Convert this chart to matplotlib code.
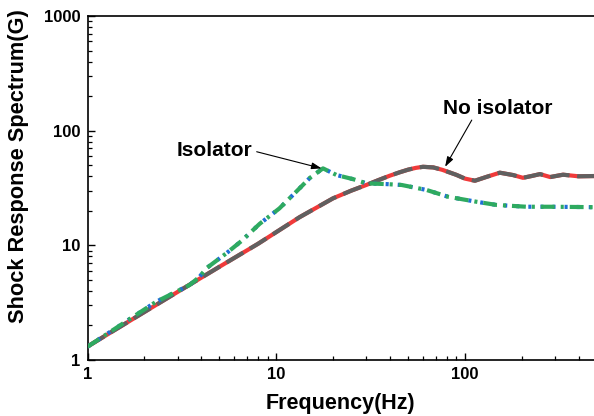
import matplotlib
matplotlib.use("Agg")
import matplotlib.pyplot as plt
from matplotlib.ticker import LogLocator, FixedLocator, NullFormatter, FixedFormatter

# ---- data ----
freq_no_iso = [1, 2, 3, 5, 8, 13.3, 20, 25, 30, 35, 40, 45, 50, 55, 60, 68, 76, 90,
               100, 113, 130, 153, 180, 203, 225, 250, 283, 331, 400, 483]
srs_no_iso = [1.31, 2.62, 3.92, 6.5, 10.3, 17.6, 25.7, 30.0, 33.6, 37.2, 40.5, 43.3,
              45.7, 47.4, 48.4, 47.8, 45.5, 41.2, 38.2, 36.6, 39.5, 43.0, 41.0, 38.8,
              40.2, 41.8, 39.4, 41.3, 40.0, 40.2]

freq_iso = [1, 2.31, 3.47, 3.93, 4.26, 5.44, 6.54, 8.17, 10.4, 12.8, 15.1, 17.7,
            20.9, 25.5, 30.1, 38.4, 46.2, 62.6, 81.6, 115, 147, 212, 282, 391, 483]
srs_iso = [1.306, 3.22, 4.5, 5.33, 6.30, 8.52, 10.9, 15.4, 21.0, 29.5, 38.8, 46.9,
           41.0, 37.8, 34.7, 34.2, 33.6, 30.4, 26.5, 24.0, 22.5, 21.7, 21.7, 21.6, 21.5]

x_ticks = [1, 10, 100]
x_ticklabels = ["1", "10", "100"]
y_ticks = [1, 10, 100, 1000]
y_ticklabels = ["1", "10", "100", "1000"]

# ---- figure ----
plt.rcParams['font.family'] = ['Liberation Sans', 'DejaVu Sans']
plt.rcParams['lines.scale_dashes'] = False

fig = plt.figure(figsize=(5.94, 4.16), dpi=100)
ax = fig.add_axes([87.5 / 594, 56 / 416, 1 - 87.5 / 594, 344 / 416])

ax.set_xscale('log')
ax.set_yscale('log')
ax.set_xlim(1, 483)
ax.set_ylim(1, 1000)

lw = 3.0
# No isolator: red base with gray dashes
ax.plot(freq_no_iso, srs_no_iso, color='#f03a3a', lw=lw, solid_capstyle='butt',
        solid_joinstyle='round', zorder=3)
ax.plot(freq_no_iso, srs_no_iso, color='#606060', lw=lw, dashes=(14, 5.5),
        dash_capstyle='butt', dash_joinstyle='round', zorder=4)

# Isolator: blue dotted under green dash-dot
ax.plot(freq_iso, srs_iso, color='#1f6fd6', lw=lw, dashes=(2.2, 6.5),
        dash_capstyle='butt', zorder=5)
ax.plot(freq_iso, srs_iso, color='#2eaa60', lw=lw, dashes=(10, 4.3, 2.2, 4.3),
        dash_capstyle='butt', zorder=6)

# ticks
ax.xaxis.set_major_locator(FixedLocator(x_ticks))
ax.xaxis.set_major_formatter(FixedFormatter(x_ticklabels))
ax.xaxis.set_minor_locator(LogLocator(base=10, subs=range(2, 10)))
ax.xaxis.set_minor_formatter(NullFormatter())
ax.yaxis.set_major_locator(FixedLocator(y_ticks))
ax.yaxis.set_major_formatter(FixedFormatter(y_ticklabels))
ax.yaxis.set_minor_locator(LogLocator(base=10, subs=range(2, 10)))
ax.yaxis.set_minor_formatter(NullFormatter())

ax.tick_params(which='major', direction='in', length=5, width=1.0,
               labelsize=12, pad=5, top=False, right=False)
ax.tick_params(which='minor', direction='in', length=3, width=0.9, top=False, right=False)
for lab in ax.get_xticklabels() + ax.get_yticklabels():
    lab.set_fontweight('bold')

for s in ['left', 'bottom', 'top']:
    ax.spines[s].set_linewidth(1.2)
ax.spines['right'].set_visible(False)

ax.set_xlabel('Frequency(Hz)', fontsize=15.5, fontweight='bold')
ax.xaxis.set_label_coords(0.5, -33 / 344)
ax.set_ylabel('Shock Response Spectrum(G)', fontsize=15.7, fontweight='bold')
ax.yaxis.set_label_coords(-58 / 506.5, (360 - 166) / 344)

# annotations
ax.annotate('', xy=(17.4, 46.9), xytext=(7.88, 65.5),
            arrowprops=dict(arrowstyle='-|>,head_length=0.6,head_width=0.2',
                            color='black', lw=0.8, shrinkA=0, shrinkB=0), zorder=8)
ax.text(7.5, 67.7, 'Isolator', fontsize=15, fontweight='bold', ha='right', va='center')

ax.annotate('', xy=(78.5, 48.4), xytext=(108.7, 123.7),
            arrowprops=dict(arrowstyle='-|>,head_length=0.6,head_width=0.2',
                            color='black', lw=0.8, shrinkA=0, shrinkB=0), zorder=8)
ax.text(149.7, 157, 'No isolator', fontsize=15, fontweight='bold', ha='center', va='center')

fig.savefig('out.png', dpi=100)
